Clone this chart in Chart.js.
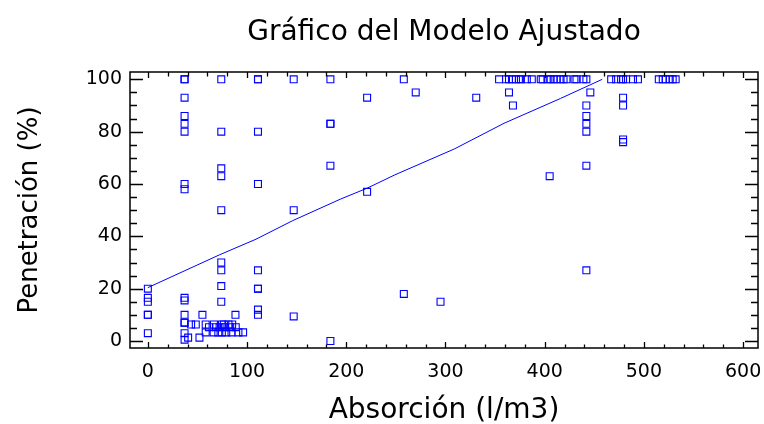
<!DOCTYPE html>
<html>
<head>
<meta charset="utf-8">
<script src="https://cdn.jsdelivr.net/npm/chart.js@4/dist/chart.umd.min.js"></script>
<style>
  html, body { margin: 0; padding: 0; background: #ffffff; }
  #wrap { width: 764px; height: 424px; }
</style>
</head>
<body>
<div id="wrap"><canvas id="c" width="764" height="424"></canvas></div>
<script>
// ---- Data ----
const titleText = 'Gráfico del Modelo Ajustado';
const xTitle = 'Absorción (l/m3)';
const yTitle = 'Penetración (%)';

const xTicks = [0, 100, 200, 300, 400, 500, 600];
const yTicks = [0, 20, 40, 60, 80, 100];

const absorcion = [
  0, 0, 0, 0, 0, 0,
  37, 37, 37, 37, 37, 37, 37, 37, 37, 37, 37, 37, 37, 37, 37,
  40.6, 52,
  43.6, 48.3, 55, 58.3, 58.3, 61.6, 66.6, 66.3, 69, 71, 72.3,
  74, 74, 74, 74, 74, 74, 74, 74, 74, 74.6, 74.6,
  76.6, 77.6, 79, 81.3, 83, 84.3, 85, 88.3, 88.6, 91.3, 96,
  111, 111, 111, 111, 111, 111, 111, 111, 111,
  147, 147, 147,
  184, 184, 184, 184, 184,
  221, 221,
  258, 258,
  270, 295, 331, 364, 368, 405,
  442, 442, 442, 442, 442, 442, 442, 446,
  479, 479, 479, 479, 479,
  354, 361, 364, 367, 371, 374, 376, 382, 387, 396, 398, 403, 406, 409, 412, 416,
  419, 422, 430, 432, 439, 467, 472, 477, 482, 489, 494, 515, 519, 522, 526, 529, 532
];
const penetracion = [
  20, 16.5, 15, 10, 10, 3,
  100, 100, 93, 86, 83, 80, 60, 58, 16.5, 15.5, 10, 7, 7, 3, 0.5,
  1.3, 1.3,
  6.3, 6.3, 10, 6.3, 3.3, 5.3, 6.3, 3.3, 5.3, 3.3, 5.3,
  100, 80, 66, 63, 50, 30, 27, 21, 15, 6.3, 3.3,
  6.3, 5.3, 3.3, 6.3, 5.3, 3.3, 6.3, 10, 5.3, 3.3, 3.3,
  100, 100, 80, 60, 27, 20, 20, 12, 10,
  100, 50, 9.4,
  100, 83, 83, 67, 0,
  93, 57,
  100, 18,
  95, 15, 93, 95, 90, 63,
  100, 90, 86, 83, 80, 67, 27, 95,
  100, 93, 90, 77, 76,
  100, 100, 100, 100, 100, 100, 100, 100, 100, 100, 100, 100, 100, 100, 100, 100,
  100, 100, 100, 100, 100, 100, 100, 100, 100, 100, 100, 100, 100, 100, 100, 100, 100
];

// fitted model line
const modelX = [0, 72, 109, 146, 194, 221, 249, 309, 359, 416, 458];
const modelY = [20.4, 32.9, 38.9, 46, 54.2, 58.4, 63.5, 73.4, 83.2, 92.7, 100];

const xMinorStep = 20;
const yMinorStep = 5;

// ---- Build chart ----
const blue = 'rgb(0,0,255)';
const FONT = "'DejaVu Sans', 'Liberation Sans', Arial, sans-serif";

const framePlugin = {
  id: 'frame',
  afterDatasetsDraw(chart) {
    const { ctx, chartArea: a, scales } = chart;
    const x = scales.x, y = scales.y;
    ctx.save();
    ctx.strokeStyle = '#000';
    ctx.lineWidth = 1.5;
    ctx.strokeRect(a.left, a.top, a.right - a.left, a.bottom - a.top);
    ctx.lineWidth = 1.3;
    ctx.beginPath();
    for (let v = xTicks[0]; v <= xTicks[xTicks.length - 1]; v += xMinorStep) {
      const px = Math.round(x.getPixelForValue(v)) + 0.5;
      const major = xTicks.includes(v);
      ctx.moveTo(px, a.bottom); ctx.lineTo(px, a.bottom - (major ? 6 : 3.5));
      ctx.moveTo(px, a.top); ctx.lineTo(px, a.top + (major ? 6 : 4.5));
    }
    for (let v = yTicks[0]; v <= yTicks[yTicks.length - 1]; v += yMinorStep) {
      const py = Math.round(y.getPixelForValue(v)) + 0.5;
      const major = yTicks.includes(v);
      ctx.moveTo(a.left, py); ctx.lineTo(a.left + (major ? 13 : 7), py);
      ctx.moveTo(a.right, py); ctx.lineTo(a.right - (major ? 13 : 7), py);
    }
    ctx.stroke();
    ctx.restore();
  }
};

const scatterData = absorcion.map((v, i) => ({ x: v, y: penetracion[i] }));
const lineData = modelX.map((v, i) => ({ x: v, y: modelY[i] }));

new Chart(document.getElementById('c'), {
  type: 'scatter',
  data: {
    datasets: [
      {
        type: 'line',
        data: lineData,
        borderColor: blue,
        borderWidth: 1,
        pointRadius: 0,
        tension: 0,
        fill: false,
        order: 2
      },
      {
        data: scatterData,
        pointStyle: 'rect',
        pointRadius: 4.9,
        pointBorderWidth: 1.1,
        pointBorderColor: blue,
        pointBackgroundColor: 'rgba(0,0,0,0)',
        order: 1
      }
    ]
  },
  options: {
    responsive: false,
    animation: false,
    devicePixelRatio: 1,
    layout: { padding: { left: 0, right: 1, top: 0, bottom: 0 } },
    plugins: {
      legend: { display: false },
      tooltip: { enabled: false },
      title: {
        display: true,
        text: titleText,
        fullSize: false,
        color: '#000',
        font: { family: FONT, size: 28, weight: 'normal' },
        padding: { top: 15.5, bottom: 22.9 }
      }
    },
    scales: {
      x: {
        type: 'linear',
        min: -18,
        max: 615,
        grid: { display: false, drawTicks: false },
        border: { display: false },
        afterBuildTicks: s => { s.ticks = xTicks.map(v => ({ value: v })); },
        afterFit: s => { s.height = 76; s.paddingLeft = 0; s.paddingRight = 0; },
        ticks: {
          color: '#000',
          autoSkip: false,
          maxRotation: 0,
          padding: 13,
          font: { family: FONT, size: 19 }
        },
        title: {
          display: true,
          text: xTitle,
          color: '#000',
          font: { family: FONT, size: 28, lineHeight: 1.0 },
          padding: { top: 0, bottom: -1 }
        }
      },
      y: {
        type: 'linear',
        min: -2.67,
        max: 102.8,
        grid: { display: false, drawTicks: false },
        border: { display: false },
        afterBuildTicks: s => { s.ticks = yTicks.map(v => ({ value: v })); },
        afterFit: s => { s.width = 130; s.paddingTop = 0; s.paddingBottom = 0; },
        ticks: {
          color: '#000',
          autoSkip: false,
          padding: 8,
          font: { family: FONT, size: 19 }
        },
        title: {
          display: true,
          text: yTitle,
          color: '#000',
          font: { family: FONT, size: 26 },
          padding: { top: 15, bottom: 0 }
        }
      }
    }
  },
  plugins: [framePlugin]
});
</script>
</body>
</html>
